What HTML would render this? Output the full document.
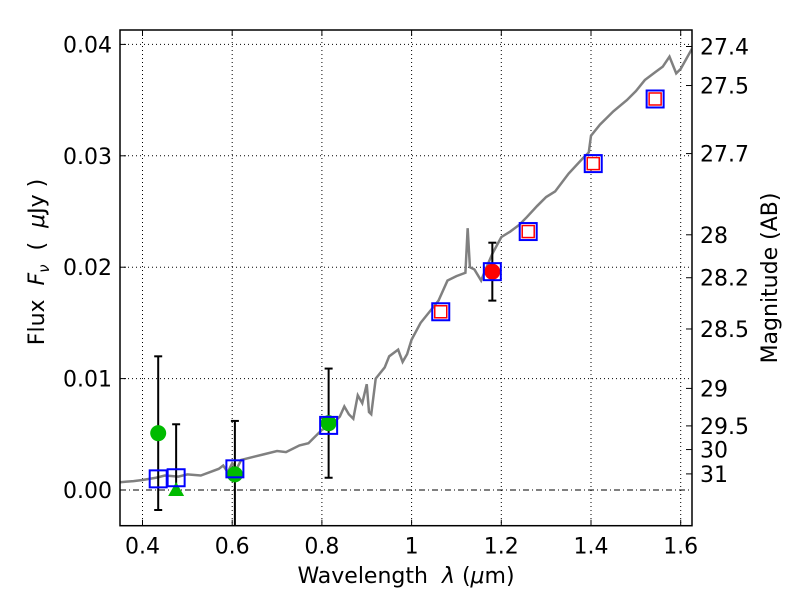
<!DOCTYPE html>
<html><head><meta charset="utf-8"><style>
body{margin:0;background:#fff}
svg text{font-family:"DejaVu Sans","Liberation Sans",sans-serif;fill:#000;white-space:pre}
</style></head><body>
<svg id="c" width="800" height="600"></svg>
<script>
const specX=[0.35,0.38,0.40,0.43,0.45,0.48,0.50,0.53,0.55,0.57,0.58,0.59,0.60,0.61,0.62,0.63,0.65,0.67,0.70,0.72,0.75,0.77,0.78,0.80,0.82,0.84,0.85,0.86,0.87,0.88,0.89,0.90,0.905,0.91,0.92,0.94,0.95,0.97,0.98,0.99,1.00,1.02,1.04,1.06,1.08,1.10,1.12,1.125,1.13,1.14,1.155,1.165,1.18,1.20,1.22,1.24,1.257,1.28,1.30,1.32,1.35,1.38,1.395,1.40,1.42,1.45,1.48,1.50,1.52,1.543,1.56,1.575,1.59,1.60,1.625];
const specY=[0.0007,0.0008,0.0009,0.0011,0.0013,0.0012,0.0014,0.0013,0.0016,0.0019,0.0022,0.0016,0.0024,0.0019,0.0027,0.0028,0.0030,0.0032,0.0035,0.0034,0.0040,0.0042,0.0046,0.0054,0.0058,0.0066,0.0075,0.0068,0.0064,0.0085,0.0078,0.0095,0.0070,0.0068,0.0100,0.0110,0.0120,0.0126,0.0115,0.0122,0.0135,0.0150,0.0160,0.0170,0.0188,0.0192,0.0195,0.0235,0.0200,0.0198,0.0188,0.0198,0.0212,0.0227,0.0232,0.0238,0.0245,0.0255,0.0263,0.0268,0.0284,0.0297,0.0303,0.0318,0.0328,0.0340,0.0350,0.0358,0.0368,0.0375,0.0380,0.0389,0.0374,0.0378,0.0396];
const boxX=[0.435,0.475,0.606,0.815,1.065,1.18,1.26,1.405,1.543];
const boxY=[0.0010,0.0011,0.0019,0.0058,0.0160,0.0196,0.0232,0.0293,0.0351];
const redBoxX=[1.065,1.26,1.405,1.543];
const redBoxY=[0.0160,0.0232,0.0293,0.0351];
const greenX=[0.435,0.606,0.815];
const greenY=[0.0051,0.0014,0.0060];
const greenLo=[-0.0018,-0.0040,0.0011];
const greenHi=[0.0120,0.0062,0.0109];
const triX=[0.475],triY=[0.0000],triLo=[0.0000],triHi=[0.0059];
const redX=[1.18],redY=[0.0196],redLo=[0.0170],redHi=[0.0222];
const xTicks=[0.4,0.6,0.8,1.0,1.2,1.4,1.6];
const xLabels=["0.4","0.6","0.8","1","1.2","1.4","1.6"];
const yTicks=[0,0.01,0.02,0.03,0.04];
const yLabels=["0.00","0.01","0.02","0.03","0.04"];
const magTicks=[27.4,27.5,27.7,28,28.2,28.5,29,29.5,30,31];

const L=120,R=692,T=30,B=525.7;
const X=v=>142.5+(v-0.4)*448.5;
const Y=v=>490-v*11140;
const s=document.getElementById('c');
const NS='http://www.w3.org/2000/svg';
function mk(t,a,p){const e=document.createElementNS(NS,t);for(const k in a)e.setAttribute(k,a[k]);(p||s).appendChild(e);return e;}
const clip=mk('clipPath',{id:'cp'});mk('rect',{x:L,y:T,width:R-L,height:B-T},clip);
const g=mk('g',{'clip-path':'url(#cp)'});

xTicks.forEach(v=>{const e=mk('line',{x1:X(v),x2:X(v),y1:T,y2:B,stroke:'#000','stroke-width':1,'stroke-dasharray':'1,3'},g);
});
yTicks.forEach(v=>{const e=mk('line',{x1:L,x2:R,y1:Y(v),y2:Y(v),stroke:'#000','stroke-width':1,'stroke-dasharray':v===0?'6,3,1,3':'1,3'},g);
});
const sp=mk('polyline',{points:specX.map((x,i)=>X(x)+','+Y(specY[i])).join(' '),fill:'none',stroke:'#808080','stroke-width':2.5},g);

function err(xs,lo,hi,name){xs.forEach((x,i)=>{const e=mk('g',{},g);

mk('line',{x1:X(x),x2:X(x),y1:Y(lo[i]),y2:Y(hi[i]),stroke:'#000','stroke-width':2},e);
[lo[i],hi[i]].forEach(v=>mk('line',{x1:X(x)-4,x2:X(x)+4,y1:Y(v),y2:Y(v),stroke:'#000','stroke-width':2},e));});}
err(greenX,greenLo,greenHi,'green-errorbar');err(triX,triLo,triHi,'triangle-errorbar');err(redX,redLo,redHi,'red-errorbar');
greenX.forEach((x,i)=>{const e=mk('circle',{cx:X(x),cy:Y(greenY[i]),r:8,fill:'#00bb00'},g);
});
triX.forEach((x,i)=>{const cx=X(x),cy=Y(triY[i]);const e=mk('polygon',{points:`${cx},${cy-8} ${cx-8},${cy+6} ${cx+8},${cy+6}`,fill:'#00bb00'},g);
});
redX.forEach((x,i)=>{const e=mk('circle',{cx:X(x),cy:Y(redY[i]),r:8,fill:'#ff0000'},g);
});
boxX.forEach((x,i)=>{const e=mk('rect',{x:X(x)-8.5,y:Y(boxY[i])-8.5,width:17,height:17,fill:'none',stroke:'#0000ff','stroke-width':2},g);
});
redBoxX.forEach((x,i)=>{const e=mk('rect',{x:X(x)-6,y:Y(redBoxY[i])-6,width:12,height:12,fill:'#fff',stroke:'#ff0000','stroke-width':1.5},g);
});
const fr=mk('rect',{x:L,y:T,width:R-L,height:B-T,fill:'none',stroke:'#000','stroke-width':1.5});

xTicks.forEach((v,i)=>{mk('line',{x1:X(v),x2:X(v),y1:B,y2:B-6,stroke:'#000'});mk('line',{x1:X(v),x2:X(v),y1:T,y2:T+6,stroke:'#000'});
const t=mk('text',{x:X(v),y:B+28,'font-size':22,'text-anchor':'middle'});t.textContent=xLabels[i];
});
yTicks.forEach((v,i)=>{mk('line',{x1:L,x2:L+6,y1:Y(v),y2:Y(v),stroke:'#000'});
const t=mk('text',{x:L-8,y:Y(v)+8,'font-size':22,'text-anchor':'end'});t.textContent=yLabels[i];
});
magTicks.forEach(m=>{const f=Math.pow(10,-0.4*(m-23.9));mk('line',{x1:R,x2:R-6,y1:Y(f),y2:Y(f),stroke:'#000'});
const t=mk('text',{x:R+8,y:Y(f)+8,'font-size':22});t.textContent=String(m);
});
let t=mk('text',{x:406,y:583,'font-size':22,'text-anchor':'middle'});t.innerHTML='Wavelength\u00a0\u00a0<tspan font-style="italic">λ</tspan> (<tspan font-style="italic">μ</tspan>m)';

t=mk('text',{x:0,y:0,'font-size':22,'text-anchor':'middle',transform:'translate(44,262) rotate(-90)'});t.innerHTML='Flux\u00a0\u00a0<tspan font-style="italic">F</tspan><tspan font-style="italic" font-size="15" dy="5">ν</tspan><tspan dy="-5">\u00a0\u00a0(\u00a0\u00a0</tspan><tspan font-style="italic">μ</tspan>Jy )';

t=mk('text',{x:0,y:0,'font-size':22,'text-anchor':'middle',transform:'translate(777,278) rotate(-90)'});t.textContent='Magnitude (AB)';

</script>
</body></html>
